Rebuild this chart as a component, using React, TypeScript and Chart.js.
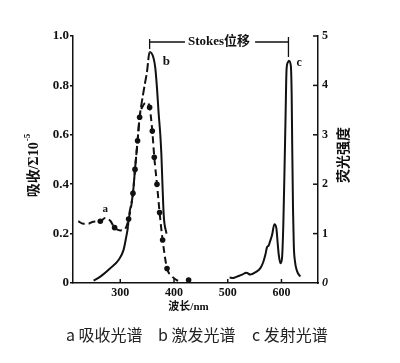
import React, { useEffect, useRef } from 'react';
import { Chart, registerables } from 'chart.js';

Chart.register(...registerables);

// ---- data ----
const xTickValues = [300, 400, 500, 600];
const yLeftTickValues = [0, 0.2, 0.4, 0.6, 0.8, 1.0];
const yRightTickValues = [0, 1, 2, 3, 4, 5];

// a: absorption (dashed line with dots), left axis
const absWavelength = [221.8, 231, 240, 250, 262.8, 272, 281.4, 289.4, 300, 307.4, 315.5, 323.6, 327.4, 332.2, 336, 343, 349.7, 354.6, 359.6, 363.3, 368.3, 373.2, 378.8, 387, 395, 402.4, 408];
const absValue = [0.25, 0.24, 0.24, 0.248, 0.25, 0.263, 0.252, 0.224, 0.213, 0.215, 0.259, 0.363, 0.46, 0.576, 0.671, 0.72, 0.73, 0.711, 0.615, 0.509, 0.4, 0.285, 0.174, 0.059, 0.03, 0.015, 0.008];
const absDotWavelength = [262.8, 289.4, 315.5, 323.6, 327.4, 332.2, 336, 354.6, 359.6, 363.3, 368.3, 373.2, 378.8, 387, 427.2];
const absDotValue = [0.25, 0.224, 0.259, 0.363, 0.46, 0.576, 0.671, 0.711, 0.615, 0.509, 0.4, 0.285, 0.174, 0.059, 0.012];

// b: excitation (solid), left axis
const excWavelength = [250.3, 262.8, 281.4, 296.8, 306.1, 311.2, 314.3, 315.5, 323.6, 327.4, 332.2, 336, 340.2, 345.3, 349.7, 354.6, 362, 365.2, 368.3, 371.3, 374.5, 376.5, 378.5, 381, 386];
const excValue = [0.01, 0.026, 0.06, 0.093, 0.134, 0.188, 0.228, 0.259, 0.363, 0.46, 0.576, 0.671, 0.734, 0.8, 0.855, 0.935, 0.91, 0.87, 0.79, 0.69, 0.6, 0.52, 0.4, 0.27, 0.2];

// c: emission (solid), right axis
const emiWavelength = [503.5, 510, 517.3, 527, 534.6, 542, 552, 560.7, 566, 570, 573, 576.2, 579, 582.5, 586.8, 590.5, 593, 595, 598, 601, 603.5, 605.5, 607.5, 609.5, 612, 614, 617.5, 619, 620, 621.5, 623, 625, 629, 635];
const emiValue = [0.11, 0.1, 0.13, 0.17, 0.21, 0.17, 0.22, 0.3, 0.42, 0.57, 0.72, 0.76, 0.85, 0.97, 1.19, 1.11, 0.8, 0.57, 0.4, 0.5, 1.2, 2.2, 3.3, 4.33, 4.47, 4.5, 4.39, 3.8, 2.8, 1.5, 0.75, 0.45, 0.24, 0.13];

const stokesFrom = 354.6;
const stokesTo = 613;

const seriesLabels = ['a 吸收光谱', 'b 激发光谱', 'c 发射光谱'];

const INK = '#111';
const SERIF = "'Liberation Serif', 'Noto Sans CJK SC', serif";

const zip = (xs: number[], ys: number[]) => xs.map((x, i) => ({ x, y: ys[i] }));

const annotate = {
  id: 'annotate',
  afterDraw(chart: any) {
    const ctx = chart.ctx;
    const x = chart.scales.x;
    const y = chart.scales.y;
    const y2 = chart.scales.y2;
    const area = chart.chartArea;
    ctx.save();
    ctx.strokeStyle = INK;
    ctx.fillStyle = INK;
    ctx.lineWidth = 1.5;

    // inward ticks on x axis
    xTickValues.forEach((v) => {
      const px = x.getPixelForValue(v);
      ctx.beginPath();
      ctx.moveTo(px, area.bottom);
      ctx.lineTo(px, area.bottom - 4);
      ctx.stroke();
    });
    // inward ticks on right axis
    yRightTickValues.forEach((v) => {
      if (v === 0) return;
      const py = y2.getPixelForValue(v);
      ctx.beginPath();
      ctx.moveTo(area.right, py);
      ctx.lineTo(area.right - 5, py);
      ctx.stroke();
    });

    // Stokes shift bracket
    const xl = x.getPixelForValue(stokesFrom);
    const xr = x.getPixelForValue(stokesTo);
    const ly = 42;
    ctx.font = `bold 13px ${SERIF}`;
    const label = 'Stokes位移';
    const tw = ctx.measureText(label).width;
    const mid = (xl + xr) / 2;
    ctx.textAlign = 'center';
    ctx.textBaseline = 'middle';
    ctx.fillText(label, mid, ly);
    ctx.lineWidth = 1.3;
    ctx.beginPath();
    ctx.moveTo(xl, ly);
    ctx.lineTo(mid - tw / 2 - 3, ly);
    ctx.moveTo(mid + tw / 2 + 5, ly);
    ctx.lineTo(xr, ly);
    ctx.moveTo(xl, ly - 3);
    ctx.lineTo(xl, ly + 7);
    ctx.moveTo(xr, ly - 5);
    ctx.lineTo(xr, ly + 15);
    ctx.stroke();

    // curve labels
    ctx.font = `bold 11px ${SERIF}`;
    ctx.fillText('a', x.getPixelForValue(272), y.getPixelForValue(0.3));
    ctx.font = `bold 13px ${SERIF}`;
    ctx.fillText('b', x.getPixelForValue(386), y.getPixelForValue(0.895));
    ctx.font = `bold 12px ${SERIF}`;
    ctx.fillText('c', x.getPixelForValue(633), y2.getPixelForValue(4.45));

    // x axis title
    ctx.font = `bold 11px ${SERIF}`;
    ctx.fillText('波长/nm', (area.left + area.right) / 2 - 7, 307);

    // left axis title (rotated)
    ctx.save();
    ctx.translate(34, 166);
    ctx.rotate(-Math.PI / 2);
    ctx.font = `bold 14px ${SERIF}`;
    const main = '吸收/Σ10';
    const w1 = ctx.measureText(main).width;
    ctx.font = `bold 9px ${SERIF}`;
    const sup = '-5';
    const w2 = ctx.measureText(sup).width;
    const start = -(w1 + w2) / 2;
    ctx.textAlign = 'left';
    ctx.font = `bold 14px ${SERIF}`;
    ctx.fillText(main, start, 0);
    ctx.font = `bold 9px ${SERIF}`;
    ctx.fillText(sup, start + w1 + 1, -6);
    ctx.restore();

    // right axis title (rotated)
    ctx.save();
    ctx.translate(344, 155);
    ctx.rotate(-Math.PI / 2);
    ctx.font = `bold 14px ${SERIF}`;
    ctx.textAlign = 'center';
    ctx.textBaseline = 'middle';
    ctx.fillText('荧光强度', 0, 0);
    ctx.restore();

    // bottom legend
    ctx.font = "16px 'Noto Sans CJK SC', sans-serif";
    ctx.fillStyle = '#222';
    ctx.textAlign = 'left';
    ctx.textBaseline = 'middle';
    const starts = [66, 158, 252];
    seriesLabels.forEach((t, i) => ctx.fillText(t, starts[i], 335));

    ctx.restore();
  },
};

function ChartView() {
  const ref = useRef<HTMLCanvasElement | null>(null);
  useEffect(() => {
    if (!ref.current) return;
    const tickFont = { family: SERIF, size: 13, weight: 'bold' as const };
    const chart = new Chart(ref.current, {
      type: 'line',
      data: {
        datasets: [
          {
            label: 'a',
            data: zip(absWavelength, absValue),
            yAxisID: 'y',
            borderColor: INK,
            borderWidth: 2,
            borderDash: [7, 4],
            pointRadius: 0,
            cubicInterpolationMode: 'monotone',
            fill: false,
          },
          {
            label: 'a-dots',
            data: zip(absDotWavelength, absDotValue),
            yAxisID: 'y',
            showLine: false,
            pointRadius: 2.8,
            pointBackgroundColor: INK,
            pointBorderColor: INK,
            pointBorderWidth: 0,
          },
          {
            label: 'b',
            data: zip(excWavelength, excValue),
            yAxisID: 'y',
            borderColor: INK,
            borderWidth: 2,
            pointRadius: 0,
            cubicInterpolationMode: 'monotone',
            fill: false,
            segment: {
              borderDash: (c: any) =>
                c.p0.parsed.x >= 314 && c.p1.parsed.x <= 355 ? [9, 3] : [],
            },
          },
          {
            label: 'c',
            data: zip(emiWavelength, emiValue),
            yAxisID: 'y2',
            borderColor: INK,
            borderWidth: 2,
            pointRadius: 0,
            cubicInterpolationMode: 'monotone',
            fill: false,
          },
        ],
      },
      options: {
        animation: false,
        responsive: false,
        devicePixelRatio: 1,
        parsing: false as any,
        normalized: true,
        layout: { padding: { top: 36, left: 0, right: 0, bottom: 0 } },
        plugins: {
          legend: { display: false },
          tooltip: { enabled: false },
        },
        scales: {
          x: {
            type: 'linear',
            position: 'bottom',
            min: 212,
            max: 668,
            afterBuildTicks: (s: any) => {
              s.ticks = xTickValues.map((v) => ({ value: v }));
            },
            afterFit: (s: any) => {
              s.height = 80;
            },
            grid: { display: false, drawTicks: false },
            border: { display: true, color: INK, width: 1.5 },
            ticks: {
              padding: 3,
              maxRotation: 0,
              color: INK,
              font: { family: SERIF, size: 12, weight: 'bold' },
              callback: (v: any) => String(v),
            },
          },
          y: {
            type: 'linear',
            position: 'left',
            min: 0,
            max: 1,
            afterBuildTicks: (s: any) => {
              s.ticks = yLeftTickValues.map((v) => ({ value: v }));
            },
            afterFit: (s: any) => {
              s.width = 73;
            },
            grid: {
              display: true,
              drawOnChartArea: false,
              drawTicks: true,
              tickLength: 3,
              color: INK,
              lineWidth: 1.5,
            },
            border: { display: true, color: INK, width: 1.5 },
            ticks: {
              padding: 1,
              color: INK,
              font: tickFont,
              callback: (v: any) => (Number(v) === 0 ? '0' : Number(v).toFixed(1)),
            },
          },
          y2: {
            type: 'linear',
            position: 'right',
            min: 0,
            max: 5,
            afterBuildTicks: (s: any) => {
              s.ticks = yRightTickValues.map((v) => ({ value: v }));
            },
            afterFit: (s: any) => {
              s.width = 82;
            },
            grid: { display: false, drawTicks: false },
            border: { display: true, color: INK, width: 1.5 },
            ticks: {
              padding: 4,
              color: INK,
              font: (c: any) => ({
                family: SERIF,
                size: 12,
                weight: 'bold',
                style: c.tick && c.tick.value === 0 ? 'italic' : 'normal',
              }),
              callback: (v: any) => String(v),
            },
          },
        },
      } as any,
      plugins: [annotate],
    });
    return () => chart.destroy();
  }, []);
  return <canvas ref={ref} width={400} height={363} style={{ display: 'block' }} />;
}

export default function App() {
  return (
    <div style={{ position: 'absolute', left: 0, top: 0, width: 400, height: 363, background: '#fff' }}>
      <ChartView />
    </div>
  );
}
